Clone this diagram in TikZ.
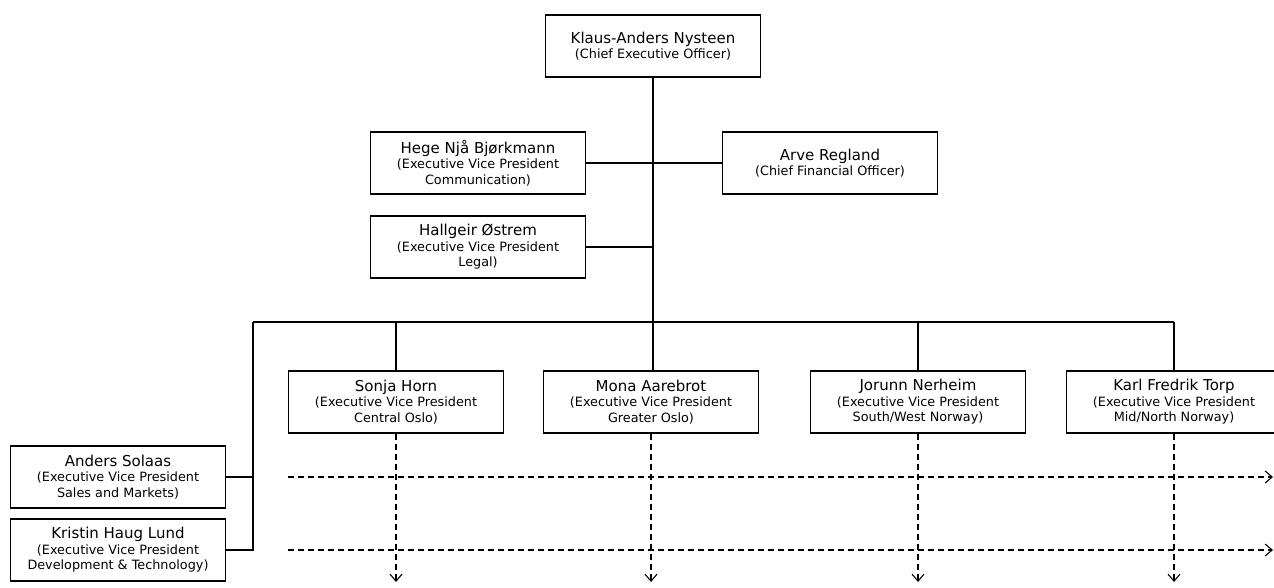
\documentclass[tikz,border=0pt]{standalone}
\usepackage{fontspec}
\setmainfont{DejaVu Sans}
\usetikzlibrary{arrows.meta}
\newcommand{\pname}[1]{{\fontsize{15}{16}\selectfont #1}}
\begin{document}
\begin{tikzpicture}[x=1pt,y=-1pt,
  person/.style={draw, line width=1.3pt, fill=white, minimum width=215pt, minimum height=62pt,
    inner sep=0pt, align=center, font=\fontsize{12.8}{15.5}\selectfont},
  link/.style={line width=1.3pt},
  dlink/.style={line width=1.2pt, dash pattern=on 6pt off 4pt, -{Straight Barb[length=7pt,width=12pt,line width=1.1pt]}}
]
\useasboundingbox (0,0) rectangle (1274,588);
\clip (0,0) rectangle (1274,588);
\fill[white] (0,0) rectangle (1274,588);

\node[person] (ceo) at (653,46) {\pname{Klaus-Anders Nysteen}\\(Chief Executive Officer)};
\node[person] (hege) at (478,163) {\pname{Hege Njå Bjørkmann}\\(Executive Vice President\\Communication)};
\node[person] (arve) at (830,163) {\pname{Arve Regland}\\(Chief Financial Officer)};
\node[person] (hall) at (478,247) {\pname{Hallgeir Østrem}\\(Executive Vice President\\Legal)};
\node[person] (sonja) at (396,402) {\pname{Sonja Horn}\\(Executive Vice President\\Central Oslo)};
\node[person] (mona) at (651,402) {\pname{Mona Aarebrot}\\(Executive Vice President\\Greater Oslo)};
\node[person] (jorunn) at (918,402) {\pname{Jorunn Nerheim}\\(Executive Vice President\\South/West Norway)};
\node[person] (karl) at (1174,402) {\pname{Karl Fredrik Torp}\\(Executive Vice President\\Mid/North Norway)};
\node[person] (anders) at (118,477) {\pname{Anders Solaas}\\(Executive Vice President\\Sales and Markets)};
\node[person] (kristin) at (118,550) {\pname{Kristin Haug Lund}\\(Executive Vice President\\Development \& Technology)};

\coordinate (busL) at (253,322);
\coordinate (edgeR) at (1273,0);
\coordinate (bottom) at (0,582);

% solid hierarchy
\draw[link] (ceo.south) -- (ceo.south |- mona.north);
\draw[link] (hege.east) -- (arve.west);
\draw[link] (hall.east) -- (hall.east -| ceo.south);
\draw[link] (busL) -- (busL -| karl.north);
\draw[link] (busL -| sonja.north) -- (sonja.north);
\draw[link] (busL -| jorunn.north) -- (jorunn.north);
\draw[link] (busL -| karl.north) -- (karl.north);
\draw[link] (busL) |- (kristin.east);
\draw[link] (anders.east) -- (anders.east -| busL);

% dashed matrix
\draw[dlink] (anders.east -| sonja.west) -- (anders.east -| edgeR);
\draw[dlink] (kristin.east -| sonja.west) -- (kristin.east -| edgeR);
\draw[dlink] (sonja.south) -- (sonja.south |- bottom);
\draw[dlink] (mona.south) -- (mona.south |- bottom);
\draw[dlink] (jorunn.south) -- (jorunn.south |- bottom);
\draw[dlink] (karl.south) -- (karl.south |- bottom);
\end{tikzpicture}
\end{document}
